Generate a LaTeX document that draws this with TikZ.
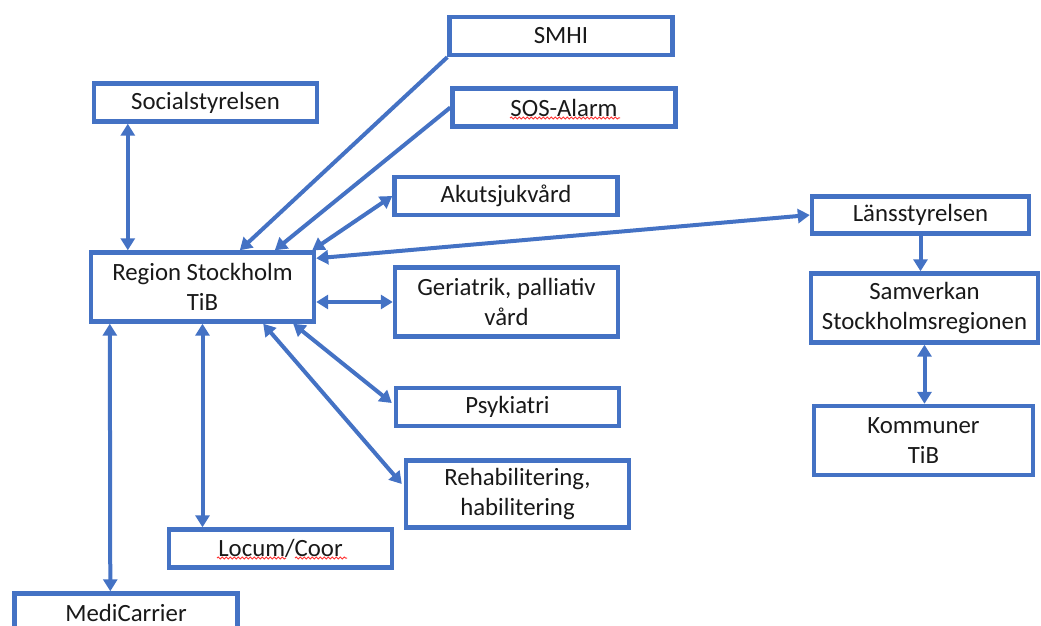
\documentclass[tikz,border=0pt]{standalone}
\usepackage{fontspec}
\setmainfont{Carlito}
\usetikzlibrary{calc,arrows.meta,decorations.pathmorphing}
\definecolor{boxblue}{HTML}{4472C4}
\tikzset{
	box/.style={draw=boxblue, line width=2.2pt, inner sep=0pt, minimum width=111.5pt, minimum height=19pt, align=center, text=black!90, font=\fontsize{12.4}{15}\selectfont},
	tall/.style={minimum height=34.5pt},
	link/.style={draw=boxblue, line width=2pt, {Triangle[length=6pt,width=7pt]}-{Triangle[length=6pt,width=7pt]}},
	oneway/.style={draw=boxblue, line width=2pt, -{Triangle[length=6pt,width=7pt]}},
	spell/.style={draw=red!80, line width=0.5pt, decorate, decoration={snake, amplitude=0.5pt, segment length=2pt}}
}

\begin{document}
\begin{tikzpicture}[x=0.5pt, y=-0.5pt]
			%%%%% START %%%%%
			\clip (0, 0) rectangle (1041, 626);
			
			\node[box] (smhi) at (561, 36) {SMHI};
			\node[box] (sos) at (564, 107.5) {SOS-Alarm};
			\node[box] (akut) at (506, 196) {Akutsjukvård};
			\node[box] (soc) at (205.5, 102.5) {Socialstyrelsen};
			\node[box, tall] (reg) at (202.5, 287) {Region Stockholm\\TiB};
			\node[box, tall] (geri) at (506.5, 302) {Geriatrik, palliativ\\vård};
			\node[box] (psyk) at (507.5, 407) {Psykiatri};
			\node[box, tall, minimum height=33.5pt] (rehab) at (517.5, 494) {Rehabilitering,\\habilitering};
			\node[box] (locum) at (280.5, 548.5) {Locum/Coor};
			\node[box] (medi) at (126, 612.5) {MediCarrier};
			
			\node[box, minimum width=108.5pt, minimum height=18.5pt] (lans) at (920.5, 215) {Länsstyrelsen};
			\node[box, tall, minimum width=113.5pt] (samv) at (924.5, 308) {Samverkan\\Stockholmsregionen};
			\node[box, tall, minimum width=109.5pt] (komm) at (923.5, 440.5) {Kommuner\\TiB};
			
			% spelling marks
			\draw[spell] (510, 118) -- (620, 118);
			\draw[spell] (217, 558) -- (286, 558);
			\draw[spell] (295, 558) -- (347, 558);
			
			% links to the region
			\draw[link] ($(soc.south west)+(36, 0)$) -- ($(reg.north west)+(39, 0)$);
			\draw[oneway] (smhi.south west) -- ($(reg.north west)+(151, 0)$);
			\draw[oneway] (sos.west) -- ($(reg.north west)+(186, 0)$);
			\draw[link] (akut.west) -- ($(reg.north east)+(-4, 0)$);
			\draw[link] ($(reg.north east)+(0, 8)$) -- (lans.west);
			\draw[link] (reg.east |- geri.west) -- (geri.west);
			\draw[link] ($(reg.south east)+(-23, 0)$) -- ($(psyk.west)+(-2, -4)$);
			\draw[link] ($(reg.south east)+(-53, 0)$) -- ($(rehab.west)+(-2, -10)$);
			\draw[link] (reg.south) -- (reg.south |- locum.north);
			\draw[link] ($(reg.south west)+(21, 0)$) -- ($(medi.north west)+(98, 0)$);
			
			% right column
			\draw[oneway] (lans.south) -- (lans.south |- samv.north);
			\draw[link] (samv.south) -- (samv.south |- komm.north);
			
			%%%%% END %%%%%
		\end{tikzpicture}
\end{document}
